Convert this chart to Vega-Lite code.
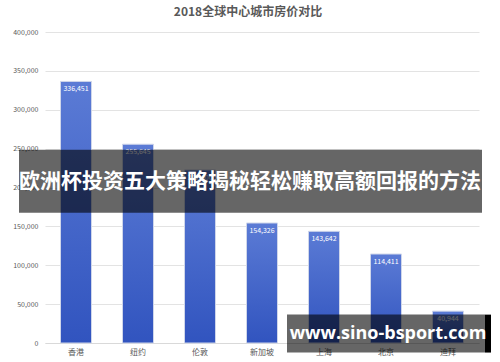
{
  "$schema": "https://vega.github.io/schema/vega-lite/v6.json",
  "width": 434,
  "height": 311,
  "autosize": {"type": "none"},
  "padding": {"left": 45, "top": 32, "right": 21, "bottom": 19},
  "background": "white",
  "config": {
    "font": "Noto Sans CJK SC",
    "view": {"stroke": null},
    "axis": {"labelOverlap": false},
    "axisY": {"labelOverlap": false, "tickCount": 8}
  },
  "title": {
    "text": "2018全球中心城市房价对比",
    "fontSize": 12,
    "fontWeight": "bold",
    "color": "#595959",
    "anchor": "middle",
    "dx": -14,
    "offset": 9
  },
  "resolve": {"scale": {"y": "independent"}, "axis": {"y": "independent"}},
  "layer": [
    {
      "data": {
        "values": [
          {"city": "香港", "price": 336451},
          {"city": "纽约", "price": 255645},
          {"city": "伦敦", "price": 222600},
          {"city": "新加坡", "price": 154326},
          {"city": "上海", "price": 143642},
          {"city": "北京", "price": 114411},
          {"city": "迪拜", "price": 40944}
        ]
      },
      "encoding": {
        "x": {
          "field": "city",
          "type": "nominal",
          "sort": null,
          "scale": {"paddingInner": 0.5, "paddingOuter": 0.25},
          "axis": {
            "title": null,
            "labelAngle": 0,
            "labelFontSize": 8,
            "labelColor": "#595959",
            "labelPadding": 5,
            "ticks": false,
            "domain": true,
            "domainColor": "#d9d9d9"
          }
        },
        "y": {
          "field": "price",
          "type": "quantitative",
          "scale": {"domain": [0, 400000], "nice": false},
          "axis": {
            "title": null,
            "format": ",.0f",
            "tickCount": 8,
            "labelFontSize": 7,
            "labelColor": "#595959",
            "labelPadding": 7,
            "labelOverlap": false,
            "labelBound": false,
            "ticks": false,
            "domain": false,
            "gridColor": "#e3e3e3"
          }
        }
      },
      "layer": [
        {
          "mark": {
            "type": "bar",
            "stroke": "#cfd6ea",
            "strokeWidth": 1,
            "color": {
              "gradient": "linear",
              "x1": 0, "y1": 0, "x2": 0, "y2": 1,
              "stops": [
                {"offset": 0, "color": "#5b7bd5"},
                {"offset": 1, "color": "#3154bf"}
              ]
            }
          }
        },
        {
          "mark": {"type": "text", "baseline": "top", "dy": 4, "fontSize": 7, "color": "white"},
          "encoding": {
            "text": {"field": "price", "type": "quantitative", "format": ",.0f"}
          }
        }
      ]
    },
    {
      "data": {"values": [{"label": "欧洲杯投资五大策略揭秘轻松赚取高额回报的方法"}]},
      "layer": [
        {
          "mark": {"type": "rect", "color": "black", "opacity": 0.6},
          "encoding": {
            "x": {"value": -26},
            "x2": {"value": 437},
            "y": {"datum": 248600, "type": "quantitative", "scale": {"domain": [0, 400000]}, "axis": null},
            "y2": {"datum": 167600}
          }
        },
        {
          "mark": {"type": "text", "fontSize": 21, "fontWeight": "bold", "color": "white", "align": "center", "baseline": "middle"},
          "encoding": {
            "x": {"value": 205},
            "y": {"datum": 207000, "type": "quantitative"},
            "text": {"field": "label"}
          }
        }
      ]
    },
    {
      "data": {"values": [{"label": "www.sino-bsport.com"}]},
      "layer": [
        {
          "mark": {"type": "rect", "color": "black", "opacity": 0.6},
          "encoding": {
            "x": {"value": 242},
            "x2": {"value": 440},
            "y": {"datum": 36500, "type": "quantitative", "scale": {"domain": [0, 400000]}, "axis": null},
            "y2": {"datum": -12300}
          }
        },
        {
          "mark": {"type": "rect", "color": "black"},
          "encoding": {
            "x": {"value": 440},
            "x2": {"value": 446},
            "y": {"datum": 36500, "type": "quantitative"},
            "y2": {"datum": -12300}
          }
        },
        {
          "mark": {"type": "text", "fontSize": 18, "fontWeight": "bold", "font": "Open Sans", "color": "white", "align": "center", "baseline": "middle"},
          "encoding": {
            "x": {"value": 343},
            "y": {"datum": 11000, "type": "quantitative"},
            "text": {"field": "label"}
          }
        }
      ]
    }
  ]
}
